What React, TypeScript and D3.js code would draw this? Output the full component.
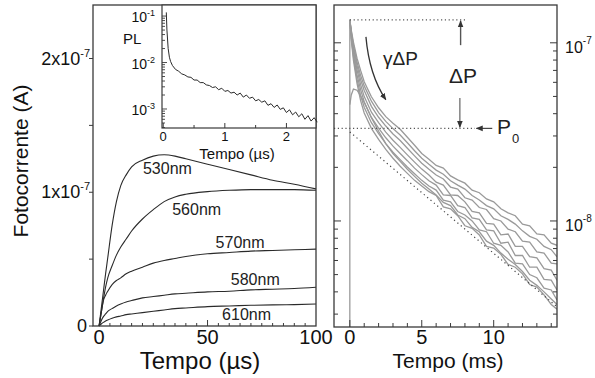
import React from "react";
import * as d3 from "d3";

// ---------- Left panel: photocurrent (units of 1e-7 A) vs time (µs) ----------
const timeUs = [0, 1, 2, 3, 4, 6, 8, 10, 12.5, 15, 20, 25, 30, 35, 40, 50, 60, 70, 80, 90, 100];
const curve530 = [0, 0.13, 0.26, 0.39, 0.51, 0.75, 0.93, 1.05, 1.13, 1.19, 1.24, 1.27, 1.28, 1.27, 1.25, 1.21, 1.17, 1.13, 1.09, 1.06, 1.025];
const curve560 = [0, 0.1, 0.2, 0.29, 0.36, 0.45, 0.53, 0.59, 0.65, 0.71, 0.8, 0.87, 0.93, 0.965, 0.985, 1.005, 1.015, 1.02, 1.02, 1.02, 1.015];
const curve570 = [0, 0.1, 0.19, 0.23, 0.26, 0.31, 0.34, 0.36, 0.39, 0.41, 0.44, 0.47, 0.49, 0.505, 0.52, 0.54, 0.55, 0.56, 0.565, 0.57, 0.575];
const curve580 = [0, 0.04, 0.07, 0.09, 0.11, 0.13, 0.15, 0.165, 0.18, 0.19, 0.21, 0.22, 0.23, 0.24, 0.245, 0.255, 0.26, 0.27, 0.275, 0.28, 0.29];
const curve610 = [0, 0.015, 0.027, 0.037, 0.045, 0.058, 0.068, 0.075, 0.085, 0.09, 0.1, 0.11, 0.12, 0.13, 0.135, 0.145, 0.15, 0.155, 0.158, 0.16, 0.165];
const wavelengths = ["530nm", "560nm", "570nm", "580nm", "610nm"];
const leftYTicks = [0, 1, 2];
const leftYTickLabels = ["0", "1x10^-7", "2x10^-7"];
const leftXTickLabels = ["0", "50", "100"];

// ---------- Inset: PL vs time (µs) ----------
const insetTime = [0.05, 0.06, 0.08, 0.1, 0.12, 0.15, 0.2, 0.25, 0.3, 0.35, 0.4, 0.45, 0.5, 0.55, 0.6, 0.65, 0.7, 0.75, 0.8, 0.85, 0.9, 0.95, 1.0, 1.05, 1.1, 1.15, 1.2, 1.25, 1.3, 1.35, 1.4, 1.45, 1.5, 1.55, 1.6, 1.65, 1.7, 1.75, 1.8, 1.85, 1.9, 1.95, 2.0, 2.05, 2.1, 2.15, 2.2, 2.25, 2.3, 2.35, 2.4, 2.45, 2.5];
const insetPL = [0.12, 0.05, 0.02, 0.013, 0.0105, 0.0086, 0.0071, 0.0065, 0.0057, 0.0054, 0.0049, 0.0048, 0.0042, 0.0042, 0.0037, 0.0037, 0.0033, 0.0032, 0.0029, 0.003, 0.0026, 0.0028, 0.0024, 0.0025, 0.0022, 0.0023, 0.002, 0.0022, 0.0018, 0.002, 0.0017, 0.0018, 0.0015, 0.0016, 0.0014, 0.0015, 0.0012, 0.0013, 0.00108, 0.00122, 0.00098, 0.00106, 0.00084, 0.00096, 0.00075, 0.00086, 0.00068, 0.00079, 0.0006, 0.00072, 0.00055, 0.00065, 0.00052];
const insetYTicks = [0.001, 0.01, 0.1];
const insetYTickLabels = ["10^-3", "10^-2", "10^-1"];
const insetXTicks = [0, 1, 2];

// ---------- Right panel: photocurrent (nA) vs time (ms) ----------
const timeMs = [0, 0.1, 0.25, 0.5, 0.75, 1, 1.5, 2, 2.5, 3, 3.5, 4, 4.5, 5, 5.5, 6, 6.5, 7, 7.5, 8, 8.5, 9, 9.5, 10, 10.5, 11, 11.5, 12, 12.5, 13, 13.5, 14, 14.4];
const decay1 = [134.5, 118, 101, 82, 70, 60.5, 49.8, 43.2, 38.5, 35.4, 32.7, 29.5, 26.6, 23.9, 22.2, 20.5, 19.8, 17.9, 17.0, 16.3, 14.9, 14.4, 13.3, 12.8, 11.7, 11.1, 10.7, 9.6, 9.4, 8.45, 8.35, 7.5, 7.3];
const decay2 = [134.5, 116, 97.5, 78, 65.6, 57.3, 47, 40.6, 36.2, 33, 30.4, 27.5, 24.8, 22.5, 20.8, 19.3, 18.3, 16.8, 15.9, 15.1, 13.9, 13.1, 12.2, 11.7, 10.7, 10.2, 9.6, 8.8, 8.2, 7.9, 7.2, 6.9, 6.3];
const decay3 = [134.5, 113.8, 94, 74.4, 62, 54, 44, 38.2, 34.1, 30.8, 28.3, 25.6, 23.2, 21.1, 19.5, 18.1, 17.2, 15.5, 15.1, 13.5, 13.1, 11.9, 11.6, 10.3, 10.0, 9.0, 8.7, 7.7, 7.6, 6.7, 6.6, 5.8, 5.75];
const decay4 = [134.5, 111.3, 90.3, 70.5, 58.2, 49.9, 40.8, 35.6, 31.5, 28.4, 25.9, 23.5, 21.4, 19.55, 18.1, 16.5, 15.9, 14.0, 13.9, 12.8, 11.3, 11.1, 9.7, 9.6, 8.35, 8.45, 7.2, 7.2, 6.3, 6.2, 5.4, 5.3, 4.65];
const decay5 = [134.5, 109, 87, 66, 54.6, 46.7, 38.1, 33.2, 29.3, 26.3, 23.9, 21.8, 19.8, 18.2, 16.8, 15.9, 14.0, 13.9, 12.2, 11.9, 10.4, 10.2, 8.9, 8.8, 7.5, 7.6, 6.4, 6.4, 5.5, 5.5, 4.7, 4.65, 4.1];
const decay6 = [134.5, 106.5, 83.5, 62.5, 50.6, 43.5, 35.6, 30.9, 27.2, 24.3, 22.1, 20.1, 18.4, 16.9, 15.7, 14.9, 13.1, 12.8, 11.3, 10.8, 10, 8.9, 8.7, 7.5, 7.3, 6.7, 5.8, 5.75, 5.0, 4.8, 4.2, 4.1, 3.6];
const decay7 = [134.5, 104, 80, 59.2, 47.4, 40.4, 33.1, 28.7, 25.2, 22.5, 20.3, 18.5, 16.9, 15.7, 14.6, 13.9, 12.0, 11.7, 10.7, 9.4, 9.1, 8.35, 7.2, 7.05, 6.5, 5.7, 5.5, 5.05, 4.4, 4.25, 3.85, 3.4, 3.2];
const decayLow = [45, 51, 55, 54.2, 50.4, 46.2, 38, 31.9, 27.2, 23.9, 21.6, 19.5, 17.8, 16.3, 15.1, 14.0, 12.7, 12.2, 10.8, 10.3, 9.2, 8.7, 7.7, 7.3, 6.6, 6.1, 5.7, 5.2, 4.65, 4.35, 4.0, 3.65, 3.4];
const peakLevel = 134.5; // nA (top dotted line)
const p0Level = 33.1; // nA (P0 dotted line)
const baselineStart = 31.6; // nA at t = 0 (dotted diagonal)
const baselineEnd = 3.3; // nA at t = 14.4
const rightYTicksLabelled = [10, 100];
const rightYTickLabels = ["10^-8", "10^-7"];
const rightXTicks = [0, 5, 10];

const FONT = "'Liberation Sans', Arial, Helvetica, sans-serif";

function supLabel(label: string, supSize: number, dy: number) {
  const [base, exp] = label.split("^");
  return (
    <>
      {base}
      {exp !== undefined && (
        <tspan fontSize={supSize} dy={dy}>
          {exp}
        </tspan>
      )}
    </>
  );
}

const isDecade = (v: number) => Math.abs(Math.log10(v) - Math.round(Math.log10(v))) < 1e-6;

export default function App() {
  const xL = d3.scaleLinear().domain([-2.8, 100]).range([93, 316]);
  const yL = d3.scaleLinear().domain([0, 2.4]).range([326, 5]);
  const xI = d3.scaleLinear().domain([-0.02, 2.48]).range([162, 316]);
  const yI = d3.scaleLog().domain([3.9e-4, 0.173]).range([128, 5]);
  const xR = d3.scaleLinear().domain([-1.1, 14.4]).range([334, 557]);
  const yR = d3.scaleLog().domain([2.54, 163]).range([327, 5]);

  const leftCurves = [curve530, curve560, curve570, curve580, curve610];
  const lineL = d3
    .line<number>()
    .x((_, i) => xL(timeUs[i]))
    .y((d) => yL(d))
    .curve(d3.curveMonotoneX);
  const lineI = d3
    .line<number>()
    .x((_, i) => xI(insetTime[i]))
    .y((d) => yI(d));
  const rightCurves = [decay1, decay2, decay3, decay4, decay5, decay6, decay7, decayLow];
  const lineR = d3
    .line<number>()
    .x((_, i) => xR(timeMs[i]))
    .y((d) => yR(d));

  const labelPos: [number, number][] = [
    [31.5, 1.14],
    [45, 0.83],
    [65, 0.585],
    [72, 0.31],
    [68, 0.045],
  ];

  const leftXMinor = d3.range(5, 100, 5);
  const [xl0, xl1] = xR.range();
  const [yr1] = yR.range();

  const frameStroke = "#3a3a3a";
  const grey = "#9a9a9a";

  const gA = [xR(1.12), yR(108)];
  const gC = [xR(1.35), yR(66)];
  const gB = [xR(2.5), yR(48)];

  return (
    <svg
      width={595}
      height={378}
      style={{ position: "absolute", left: 0, top: 0, background: "#fff" }}
      fontFamily={FONT}
    >
      <defs>
        <marker id="ah" viewBox="0 0 10 10" refX="9" refY="5" markerWidth="7" markerHeight="7" markerUnits="userSpaceOnUse" orient="auto">
          <path d="M0,1 L10,5 L0,9 z" fill="#333" />
        </marker>
        <clipPath id="clipR">
          <rect x={334} y={5} width={223} height={322} />
        </clipPath>
      </defs>
      <rect x={0} y={0} width={595} height={378} fill="#fff" />

      {/* ================= LEFT PANEL ================= */}
      <g>
        {leftCurves.map((c, k) => (
          <path key={k} d={lineL(c) || ""} fill="none" stroke="#2a2a2a" strokeWidth={1.1} />
        ))}
        {wavelengths.map((w, k) => (
          <text key={w} x={xL(labelPos[k][0])} y={yL(labelPos[k][1])} fontSize={16} textAnchor="middle" fill="#222">
            {w}
          </text>
        ))}
        <rect x={93} y={5} width={223} height={321} fill="none" stroke={frameStroke} strokeWidth={1.3} />
        {leftXMinor.map((t) => (
          <line key={t} x1={xL(t)} x2={xL(t)} y1={326} y2={t % 50 === 0 ? 320 : 323} stroke={frameStroke} />
        ))}
        {[0, 50, 100].map((t, i) => (
          <text key={t} x={xL(t)} y={344} fontSize={20} textAnchor="middle" fill="#111">
            {leftXTickLabels[i]}
          </text>
        ))}
        {[0, 0.5, 1, 1.5, 2].map((v) => (
          <line key={v} x1={93} x2={89} y1={yL(v)} y2={yL(v)} stroke={frameStroke} />
        ))}
        {leftYTicks.map((v, i) => (
          <text key={v} x={v === 0 ? 87 : 90} y={yL(v) + 6} fontSize={18} textAnchor="end" fill="#111">
            {supLabel(leftYTickLabels[i], 11, -8)}
          </text>
        ))}
        <text x={200} y={369} fontSize={24} textAnchor="middle" fill="#111">
          Tempo (µs)
        </text>
        <text transform="translate(28,161) rotate(-90)" fontSize={21} textAnchor="middle" fill="#111">
          Fotocorrente (A)
        </text>

        {/* ---- inset ---- */}
        <rect x={162} y={5} width={154} height={123} fill="#fff" stroke={frameStroke} strokeWidth={1.2} />
        <path d={lineI(insetPL) || ""} fill="none" stroke="#2a2a2a" strokeWidth={1} />
        {yI.ticks().map((v, i) => (
          <line key={i} x1={162} x2={162 + (isDecade(v) ? 5 : 3)} y1={yI(v)} y2={yI(v)} stroke={frameStroke} strokeWidth={0.9} />
        ))}
        {[0, 0.5, 1, 1.5, 2].map((t) => (
          <line key={t} x1={xI(t)} x2={xI(t)} y1={128} y2={Number.isInteger(t) ? 123 : 125} stroke={frameStroke} />
        ))}
        {insetYTicks.map((v, i) => (
          <text key={v} x={155} y={yI(v) + 6} fontSize={14} textAnchor="end" fill="#111">
            {supLabel(insetYTickLabels[i], 9, -6)}
          </text>
        ))}
        {insetXTicks.map((t) => (
          <text key={t} x={xI(t)} y={141} fontSize={13} textAnchor="middle" fill="#111">
            {String(t)}
          </text>
        ))}
        <text x={123} y={44} fontSize={15} fill="#111">
          PL
        </text>
        <text x={237} y={159} fontSize={15} textAnchor="middle" fill="#111">
          Tempo (µs)
        </text>
      </g>

      {/* ================= RIGHT PANEL ================= */}
      <g>
        <g clipPath="url(#clipR)">
          <line x1={xR(0)} x2={xR(0)} y1={yR(yR.domain()[0])} y2={yR(peakLevel)} stroke={grey} strokeWidth={1.3} />
          {rightCurves.map((c, k) => (
            <path key={k} d={lineR(c) || ""} fill="none" stroke={grey} strokeWidth={1.3} />
          ))}
          <line x1={xR(0)} x2={xR(8.1)} y1={yR(peakLevel)} y2={yR(peakLevel)} stroke="#555" strokeWidth={1.1} strokeDasharray="1.2 2.6" />
          <line x1={xl0} x2={xR(8.7)} y1={yR(p0Level)} y2={yR(p0Level)} stroke="#555" strokeWidth={1.1} strokeDasharray="1.2 2.6" />
          <line x1={xR(0)} x2={xR(14.4)} y1={yR(baselineStart)} y2={yR(baselineEnd)} stroke="#444" strokeWidth={1.2} strokeDasharray="1.2 3.2" />
        </g>
        <line x1={xR(7.7)} x2={xR(7.7)} y1={yR(97)} y2={yR(peakLevel) + 1} stroke="#555" strokeWidth={1.4} markerEnd="url(#ah)" />
        <line x1={xR(7.65)} x2={xR(7.65)} y1={yR(49)} y2={yR(p0Level) - 1} stroke="#555" strokeWidth={1.1} markerEnd="url(#ah)" />
        <line x1={xR(9.9)} x2={xR(8.8)} y1={yR(p0Level)} y2={yR(p0Level)} stroke="#333" strokeWidth={1.1} markerEnd="url(#ah)" />
        <path d={`M${gA[0]},${gA[1]} Q${gC[0]},${gC[1]} ${gB[0]},${gB[1]}`} fill="none" stroke="#333" strokeWidth={1.3} markerEnd="url(#ah)" />
        <text x={383} y={65} fontSize={19} fill="#222">
          γΔP
        </text>
        <text x={463} y={83} fontSize={21} textAnchor="middle" fill="#222">
          ΔP
        </text>
        <text x={497} y={134} fontSize={21} fill="#222">
          P
          <tspan fontSize={13} dy={9} dx={1}>
            0
          </tspan>
        </text>

        <rect x={334} y={5} width={223} height={322} fill="none" stroke={frameStroke} strokeWidth={1.3} />
        {yR.ticks().map((v, i) => {
          const len = isDecade(v) ? 7 : 4;
          return (
            <g key={i}>
              <line x1={xl0} x2={xl0 + len} y1={yR(v)} y2={yR(v)} stroke={frameStroke} />
              <line x1={xl1} x2={xl1 - len} y1={yR(v)} y2={yR(v)} stroke={frameStroke} />
            </g>
          );
        })}
        {d3.range(0, 15).map((t) => (
          <line key={t} x1={xR(t)} x2={xR(t)} y1={yr1} y2={yr1 - (t % 5 === 0 ? 7 : 4)} stroke={frameStroke} />
        ))}
        {rightXTicks.map((t) => (
          <text key={t} x={xR(t)} y={344} fontSize={20} textAnchor="middle" fill="#111">
            {String(t)}
          </text>
        ))}
        {rightYTicksLabelled.map((v, i) => (
          <text key={v} x={565} y={yR(v) + 10} fontSize={16} fill="#111">
            {supLabel(rightYTickLabels[i], 10, -9)}
          </text>
        ))}
        <text x={448} y={368} fontSize={21} textAnchor="middle" fill="#111">
          Tempo (ms)
        </text>
      </g>
    </svg>
  );
}
